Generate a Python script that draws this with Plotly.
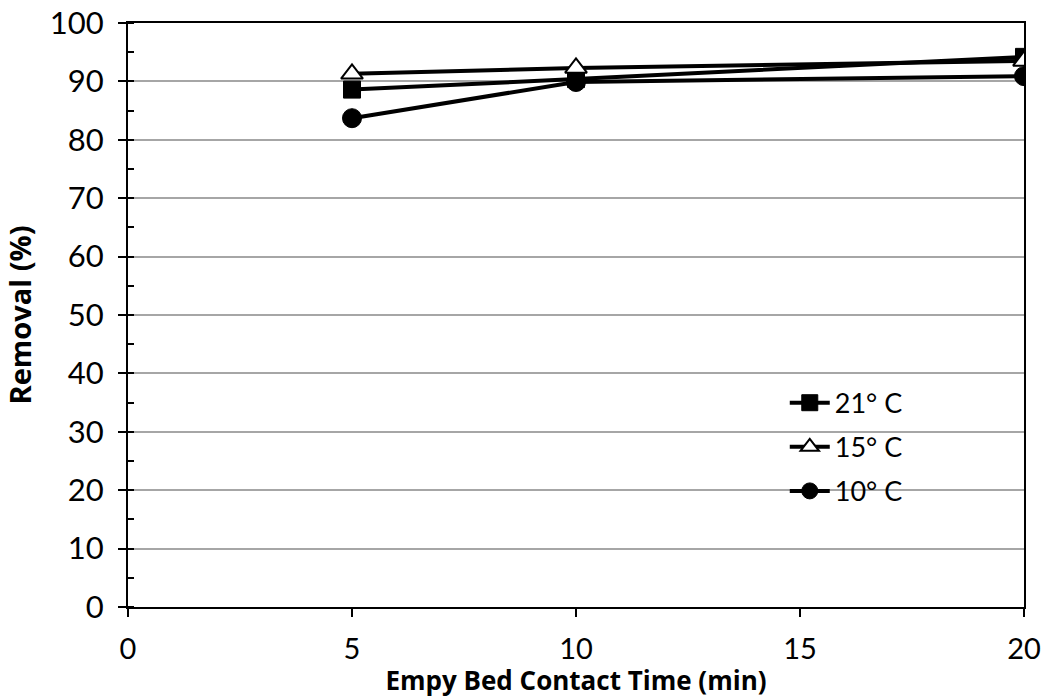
import plotly.graph_objects as go

ebct = [5, 10, 20]
removal_21 = [88.6, 90.4, 94.2]
removal_15 = [91.3, 92.3, 93.5]
removal_10 = [83.7, 89.9, 90.9]
names = ["21° C", "15° C", "10° C"]

x_ticks = [0, 5, 10, 15, 20]
y_ticks = [0, 10, 20, 30, 40, 50, 60, 70, 80, 90, 100]

FONT = "Lato, Carlito, Calibri, sans-serif"
TFONT = "Open Sans, Lato, sans-serif"

fig = go.Figure()
fig.add_trace(go.Scatter(
    x=ebct, y=removal_21, name=names[0], mode="lines+markers", legendgroup="a",
    line=dict(color="black", width=4),
    marker=dict(symbol="square", size=17, color="black", line=dict(color="black", width=1)),
))
fig.add_trace(go.Scatter(
    x=ebct, y=removal_15, name=names[1], mode="lines+markers", legendgroup="b",
    line=dict(color="black", width=4),
    marker=dict(symbol="triangle-up", size=19, color="white", line=dict(color="black", width=2)),
))
fig.add_trace(go.Scatter(
    x=ebct, y=removal_10, name=names[2], mode="lines+markers", legendgroup="c",
    line=dict(color="black", width=4),
    marker=dict(symbol="circle", size=19, color="black", line=dict(color="black", width=1)),
))

# white box behind legend that hides the gridlines
fig.add_shape(type="rect", xref="paper", yref="paper",
              x0=0.6685, x1=0.923, y0=0.142, y1=0.39,
              fillcolor="white", line=dict(width=0), layer="between")

fig.update_layout(
    width=1045, height=698,
    margin=dict(l=128, r=21, t=23, b=91, autoexpand=False),
    paper_bgcolor="white", plot_bgcolor="white",
    font=dict(family=FONT, size=31, color="black"),
    showlegend=True,
    legend=dict(x=0.733, y=0.391, xanchor="left", yanchor="top",
                bgcolor="rgba(0,0,0,0)", font=dict(size=27, family=FONT),
                tracegroupgap=6, itemwidth=40),
    xaxis=dict(range=[0, 20], tickvals=x_ticks, ticks="outside", ticklen=8,
               tickwidth=2, tickcolor="black", showline=True, linecolor="black",
               linewidth=2, mirror=True, showgrid=False, zeroline=False,
               automargin=False,
               tickfont=dict(size=29), ticklabeloverflow="allow",
               ticklabelstandoff=7,
               title=dict(text="<b>Empy Bed Contact Time (min)</b>",
                          font=dict(size=26, family=TFONT), standoff=10)),
    yaxis=dict(range=[0, 100], tickvals=y_ticks, ticks="outside", ticklen=8,
               tickwidth=2, tickcolor="black", showline=True, linecolor="black",
               linewidth=2, mirror=True, showgrid=True, gridcolor="#a6a6a6",
               gridwidth=2, zeroline=False,
               automargin=False,
               tickfont=dict(size=31), ticklabeloverflow="allow",
               ticklabelstandoff=8,
               minor=dict(ticks="inside", ticklen=6, tickwidth=2, tickcolor="black",
                          dtick=5, showgrid=False),
               title=dict(text="<b>Removal (%)</b>",
                          font=dict(size=29, family=TFONT), standoff=10)),
)

fig.write_html("out.html", config={"displayModeBar": False},
               post_script="document.body.style.margin='0';")
